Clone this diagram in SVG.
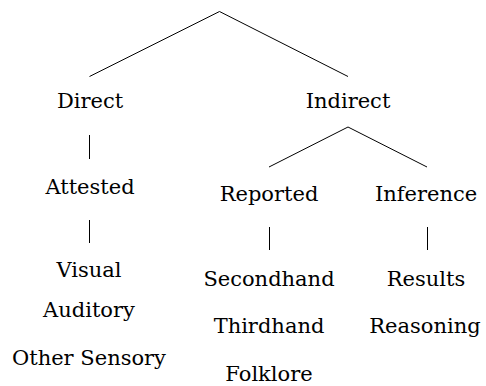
<svg xmlns="http://www.w3.org/2000/svg" width="486" height="386" viewBox="0 0 486 386">
  <style>
    .lbl { font-family: "DejaVu Serif", "Liberation Serif", serif; font-size: 21px; fill: #000; text-anchor: middle; }
    .edge { stroke: #000; stroke-width: 1; fill: none; }
  </style>
  <rect width="486" height="386" fill="#fff"/>
  <!-- tree edges -->
  <g id="connectors">
    <path class="edge" d="M219.5 11.5 L89.5 76.5"/>
    <path class="edge" d="M219.5 11.5 L348 76.5"/>
    <path class="edge" d="M89.5 135 V159"/>
    <path class="edge" d="M89.5 220 V243"/>
    <path class="edge" d="M348 127 L269 167"/>
    <path class="edge" d="M348 127 L427 167"/>
    <path class="edge" d="M269.5 227 V250"/>
    <path class="edge" d="M427.5 227 V250"/>
  </g>
  <!-- left branch -->
  <g id="direct"><text class="lbl" x="90" y="108">Direct</text></g>
  <g id="attested"><text class="lbl" x="90" y="194">Attested</text></g>
  <g id="attested-kinds">
    <text class="lbl" x="89" y="277">Visual</text>
    <text class="lbl" x="89" y="317">Auditory</text>
    <text class="lbl" x="89" y="365">Other Sensory</text>
  </g>
  <!-- right branch -->
  <g id="indirect"><text class="lbl" x="348" y="108">Indirect</text></g>
  <g id="reported"><text class="lbl" x="269" y="201">Reported</text></g>
  <g id="inference"><text class="lbl" x="426" y="201">Inference</text></g>
  <g id="reported-kinds">
    <text class="lbl" x="269" y="286">Secondhand</text>
    <text class="lbl" x="269" y="333">Thirdhand</text>
    <text class="lbl" x="269" y="381">Folklore</text>
  </g>
  <g id="inference-kinds">
    <text class="lbl" x="426" y="286">Results</text>
    <text class="lbl" x="425" y="333">Reasoning</text>
  </g>
</svg>
